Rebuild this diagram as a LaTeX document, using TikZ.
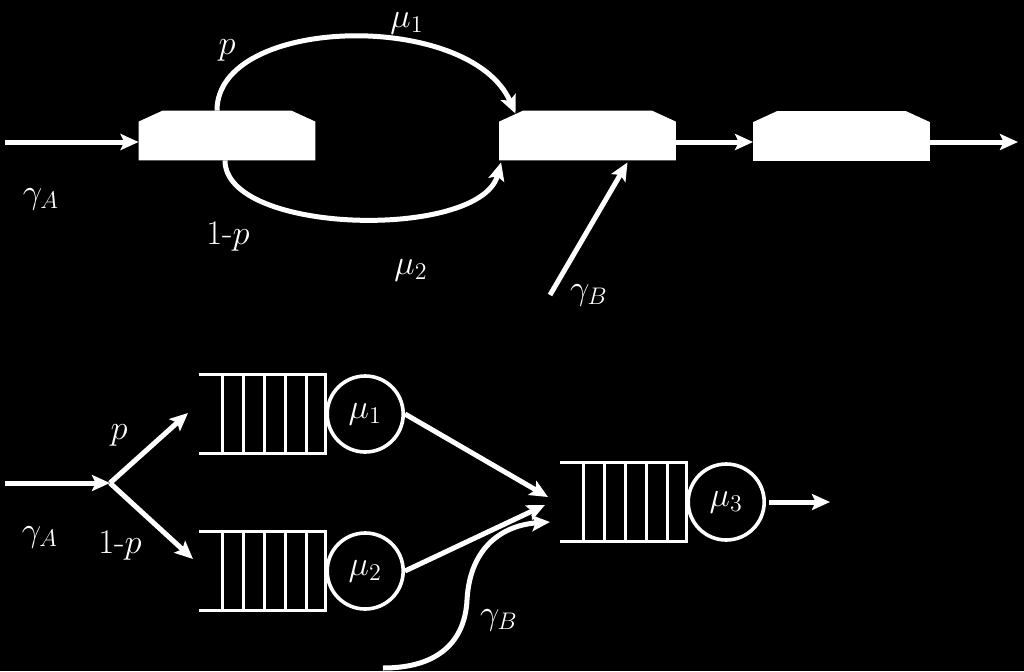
\documentclass[tikz,border=0pt]{standalone}
\usepackage{tikz}
\usetikzlibrary{arrows.meta,positioning,calc}
\tikzset{
  station/.style={draw=none, inner sep=0pt, minimum width=88pt, minimum height=24.5pt},
  buffer/.style={draw=none, inner sep=0pt, minimum width=63pt, minimum height=39pt},
  server/.style={draw=white, circle, line width=1.8pt, inner sep=0pt, minimum size=38pt},
  qline/.style={draw=white, line width=1.8pt},
  arrow/.style={-{Stealth[length=9pt, width=8pt, inset=1.8pt]}, line width=2.5pt, white},
}
\begin{document}
\begin{tikzpicture}[x=0.5pt, y=-0.5pt, text=white, font=\LARGE]
  \fill[black] (0,0) rectangle (1024,671);
  \useasboundingbox (0,0) rectangle (1024,671);

  % Upper picture: three stations
  \node[station] (sA) at (227,135.5) {};
  \node[station] (sB) at (587.5,135.5) {};
  \node[station] (sC) at (841.5,136) {};
  \foreach \s in {sA,sB,sC}
    \fill[white] (\s.south west) -- ($(\s.north west)+(0,11)$) -- ($(\s.north west)+(24,0)$)
      -- ($(\s.north east)+(-24,0)$) -- ($(\s.north east)+(0,11)$) -- (\s.south east) -- cycle;

  \coordinate (lvl) at (0,142);
  \coordinate (inA) at (5,142);
  \coordinate (outA) at (1018,142);
  \draw[arrow] (inA) -- (inA -| sA.west);
  \draw[arrow] (sB.east |- lvl) -- (sC.west |- lvl);
  \draw[arrow] (sC.east |- lvl) -- (outA);

  % Split around station A
  \draw[arrow] ($(sA.north)+(-10,0)$) .. controls (217,15) and (470,10) .. ($(sB.north)+(-72,3)$);
  \draw[arrow] ($(sA.south)+(-2,0)$) .. controls (225,235) and (480,240) .. ($(sB.south west)+(2,2)$);
  \coordinate (gB) at (550,295);
  \draw[arrow] (gB) -- ($(sB.south)+(40,2)$);

  \node (lp) at (227,50) {$p$};
  \node (lm1) at (407,23) {$\mu_1$};
  \node (lq) at (228,236) {1-$p$};
  \node (lm2) at (411,270) {$\mu_2$};
  \node (lgA) at (41,199) {$\gamma_A$};
  \node (lgB) at (589,295) {$\gamma_B$};

  % Lower picture: queueing network
  \node[buffer] (q1) at (262,414) {};
  \node[server, right=0pt of q1] (m1) {$\mu_1$};
  \node[buffer] (q2) at (262,571) {};
  \node[server, right=0pt of q2] (m2) {$\mu_2$};
  \node[buffer] (q3) at (623,502) {};
  \node[server, right=0pt of q3] (m3) {$\mu_3$};
  \foreach \q in {q1,q2,q3} {
    \draw[qline] (\q.north west) -- (\q.north east) -- (\q.south east) -- (\q.south west);
    \foreach \k in {0,...,4}
      \draw[qline] ($(\q.north west)+(24+21*\k,0)$) -- ($(\q.south west)+(24+21*\k,0)$);
  }

  \coordinate (inB) at (5,483);
  \coordinate (fork) at (110,483);
  \coordinate (toQ1) at (188,413);
  \coordinate (toQ2) at (193,559);
  \draw[arrow] (inB) -- (fork);
  \draw[arrow] (fork) -- (toQ1);
  \draw[arrow] (fork) -- (toQ2);

  \coordinate (mg1) at (548,497);
  \coordinate (mg2) at (545,505);
  \coordinate (mg3) at (550,522);
  \coordinate (gB2) at (383,668);
  \draw[arrow] (m1.east) -- (mg1);
  \draw[arrow] (m2.east) -- (mg2);
  \draw[arrow] (gB2) .. controls (440,668) and (465,640) .. (467,600)
    .. controls (470,545) and (505,525) .. (mg3);
  \coordinate (outB) at (830,502);
  \draw[arrow] ($(m3.east)+(3,0)$) -- (outB);

  \node (bp) at (119,435) {$p$};
  \node (bgA) at (40,537) {$\gamma_A$};
  \node (bq) at (120,545) {1-$p$};
  \node (bgB) at (499,620) {$\gamma_B$};
\end{tikzpicture}
\end{document}
